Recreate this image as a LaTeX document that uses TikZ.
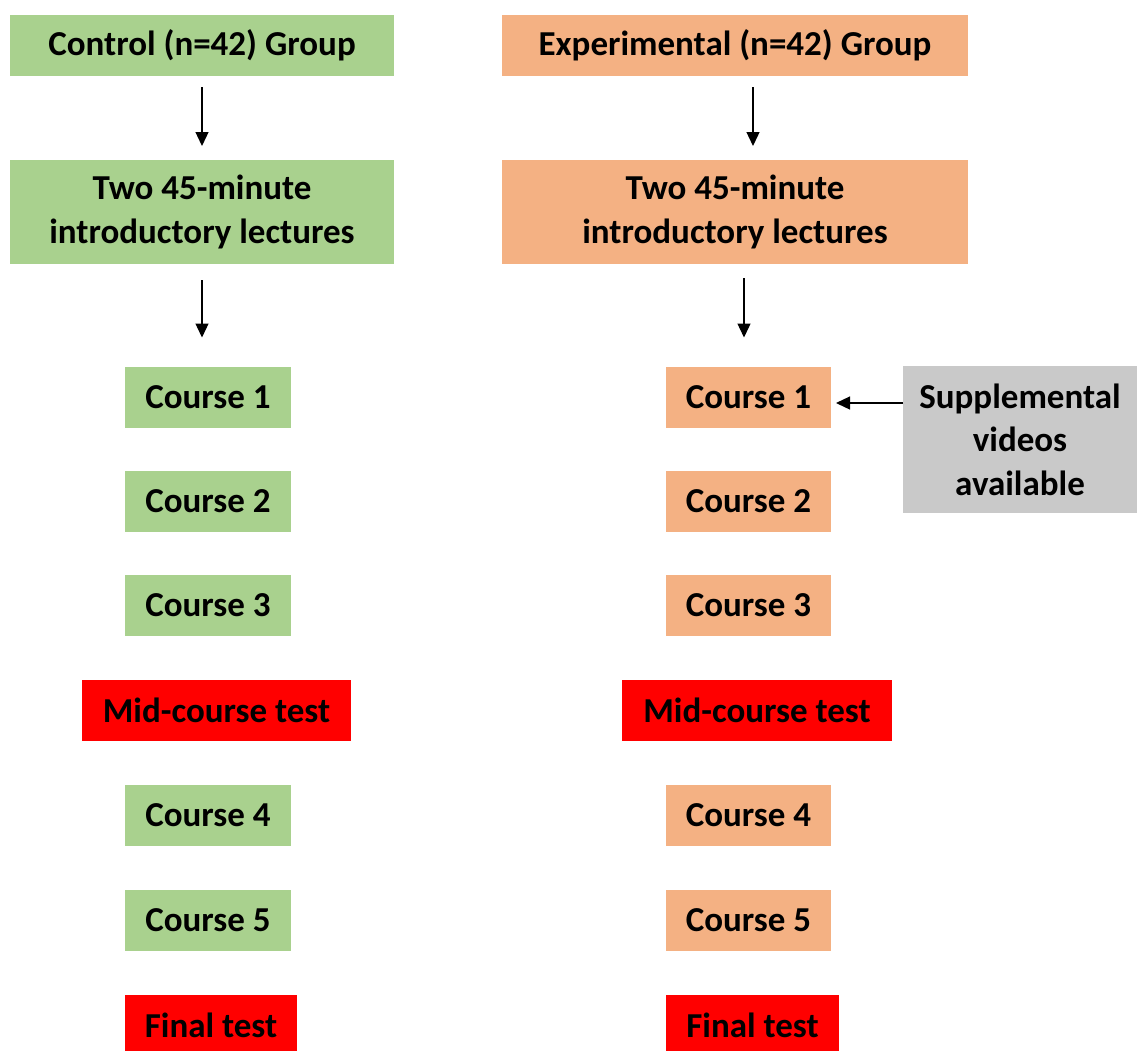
\documentclass[tikz,border=0pt]{standalone}
\usepackage{fontspec}
\setmainfont{Carlito}
\usetikzlibrary{arrows.meta}
\definecolor{grn}{HTML}{A9D18E}
\definecolor{org}{HTML}{F4B183}
\definecolor{gry}{HTML}{C9C9C9}
\definecolor{rd}{HTML}{FF0000}
\tikzset{
  box/.style={inner sep=0pt, outer sep=0pt, align=center, font=\fontsize{35}{43.5}\selectfont\bfseries, text=black},
  gbox/.style={box, fill=grn},
  obox/.style={box, fill=org},
  rbox/.style={box, fill=rd},
  sbox/.style={box, fill=gry},
  arr/.style={-{Triangle[width=13pt,length=14pt]}, line width=1.3pt, black},
}
\begin{document}
\begin{tikzpicture}[x=1pt,y=1pt]
\useasboundingbox (0,0) rectangle (1137,-1050);
% left column
\node[gbox, minimum width=384pt, minimum height=61pt] (ctrl) at (202,-45.5) {Control (n=42) Group};
\node[gbox, minimum width=384pt, minimum height=104pt] (lecL) at (202,-212) {Two 45-minute\\introductory lectures};
\node[gbox, minimum width=166pt, minimum height=61pt] (c1L) at (208,-397) {Course 1};
\node[gbox, minimum width=166pt, minimum height=61pt] (c2L) at (208,-501) {Course 2};
\node[gbox, minimum width=166pt, minimum height=61pt] (c3L) at (208,-605) {Course 3};
\node[rbox, minimum width=269pt, minimum height=61pt] (midL) at (216.5,-710) {Mid-course test};
\node[gbox, minimum width=166pt, minimum height=61pt] (c4L) at (208,-815.5) {Course 4};
\node[gbox, minimum width=166pt, minimum height=61pt] (c5L) at (208,-920.5) {Course 5};
\node[rbox, minimum width=172pt, minimum height=61pt] (finL) at (211,-1025.5) {Final test};
% right column
\node[obox, minimum width=466pt, minimum height=61pt] (exp) at (735,-45.5) {Experimental (n=42) Group};
\node[obox, minimum width=466pt, minimum height=104pt] (lecR) at (735,-212) {Two 45-minute\\introductory lectures};
\node[obox, minimum width=165pt, minimum height=61pt] (c1R) at (748.5,-397) {Course 1};
\node[obox, minimum width=165pt, minimum height=61pt] (c2R) at (748.5,-501) {Course 2};
\node[obox, minimum width=165pt, minimum height=61pt] (c3R) at (748.5,-605) {Course 3};
\node[rbox, minimum width=270pt, minimum height=61pt] (midR) at (757,-710) {Mid-course test};
\node[obox, minimum width=165pt, minimum height=61pt] (c4R) at (748.5,-815.5) {Course 4};
\node[obox, minimum width=165pt, minimum height=61pt] (c5R) at (748.5,-920.5) {Course 5};
\node[rbox, minimum width=173pt, minimum height=61pt] (finR) at (752.5,-1025.5) {Final test};
\node[sbox, minimum width=234pt, minimum height=147pt] (supp) at (1020,-439.5) {Supplemental\\videos\\available};
% arrows
\draw[arr] ([yshift=-11pt]ctrl.south) -- ([yshift=14pt]lecL.north);
\draw[arr] ([yshift=-16pt]lecL.south) -- ([xshift=-6pt,yshift=29pt]c1L.north);
\draw[arr] ([xshift=18pt,yshift=-11pt]exp.south) -- ([xshift=18pt,yshift=14pt]lecR.north);
\draw[arr] ([xshift=9pt,yshift=-14pt]lecR.south) -- ([xshift=-4.5pt,yshift=29pt]c1R.north);
\draw[arr] ([yshift=-6pt]supp.west |- c1R.east) -- ([xshift=5pt,yshift=-6pt]c1R.east);
\end{tikzpicture}
\end{document}
